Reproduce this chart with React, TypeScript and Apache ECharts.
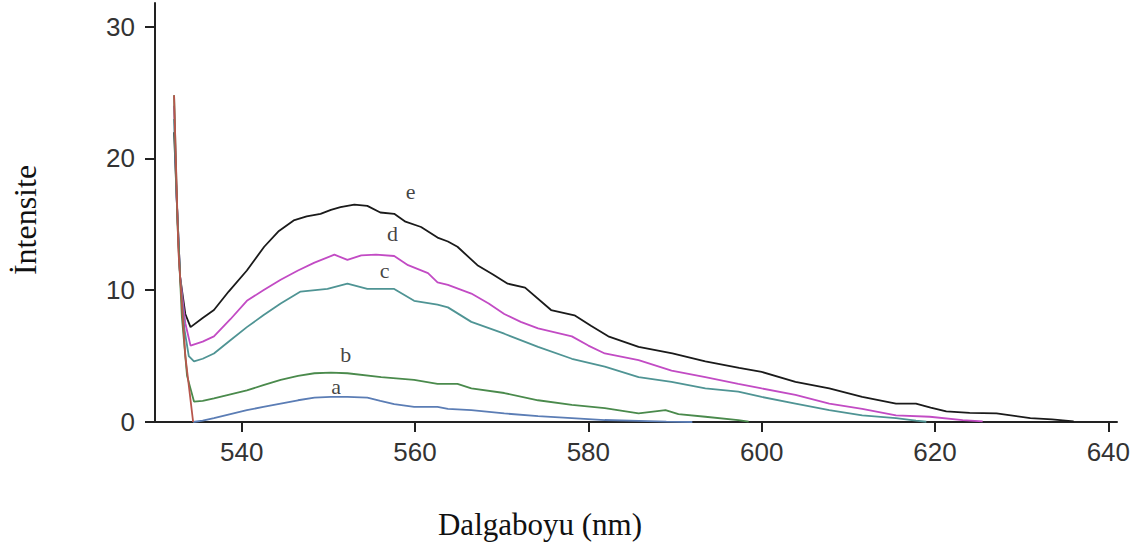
import React, { useEffect, useRef } from "react";
import * as echarts from "echarts";

const xTicks = [540, 560, 580, 600, 620, 640];
const yTicks = [0, 10, 20, 30];

const curveE: [number, number][] = [[532.2,22],[532.5,17],[532.9,11],[533.5,8.2],[534.1,7.2],[535.5,7.9],[536.8,8.5],[538.5,9.9],[540.6,11.5],[542.6,13.3],[544.3,14.5],[546.0,15.3],[547.5,15.6],[549.1,15.8],[550.3,16.1],[551.4,16.3],[553.0,16.5],[554.5,16.4],[556.0,15.9],[557.6,15.8],[558.9,15.2],[560.7,14.8],[562.6,14.0],[563.8,13.7],[564.9,13.3],[567.2,11.9],[569.0,11.2],[570.7,10.5],[572.7,10.2],[575.7,8.5],[578.4,8.1],[580.3,7.3],[582.3,6.5],[585.8,5.7],[589.7,5.2],[593.5,4.6],[597.4,4.1],[600.0,3.8],[603.9,3.05],[607.8,2.55],[611.6,1.9],[615.5,1.4],[617.8,1.4],[619.5,1.1],[621.3,0.8],[624,0.7],[627.1,0.65],[631.0,0.3],[633.5,0.2],[636.0,0.05]];
const curveD: [number, number][] = [[532.2,24],[532.5,17],[532.9,11],[533.5,7.5],[534.1,5.8],[535.5,6.1],[536.8,6.5],[538.7,7.8],[540.6,9.2],[542.5,10.0],[544.5,10.8],[546.5,11.5],[548.4,12.1],[550.7,12.7],[552.2,12.3],[553.8,12.65],[555.5,12.7],[557.6,12.6],[559.2,11.9],[561.5,11.3],[562.6,10.6],[563.8,10.4],[566.5,9.75],[568.5,9.0],[570.3,8.2],[572.2,7.6],[574.2,7.1],[578.1,6.5],[580,5.8],[581.9,5.2],[585.8,4.7],[589.6,3.9],[593.5,3.4],[597.3,2.9],[600.0,2.55],[603.9,2.05],[607.8,1.4],[611.6,1.0],[615.5,0.5],[619.4,0.4],[623.2,0.15],[625.5,0.05]];
const curveC: [number, number][] = [[532.2,23],[532.5,17],[532.9,11],[533.4,7],[533.9,5.0],[534.5,4.6],[535.5,4.8],[536.8,5.2],[538.7,6.2],[540.6,7.2],[542.5,8.1],[544.5,9.0],[546.8,9.9],[549.9,10.1],[552.2,10.5],[554.5,10.1],[557.6,10.1],[559.9,9.2],[562.6,8.9],[563.8,8.7],[566.5,7.6],[570.3,6.7],[574.2,5.7],[578.1,4.8],[581.9,4.2],[585.8,3.4],[589.6,3.05],[593.5,2.55],[597.3,2.3],[600,1.9],[603.9,1.4],[607.8,0.9],[611.6,0.5],[615.5,0.3],[617.8,0.1],[619,0.02]];
const curveB: [number, number][] = [[532.2,24.8],[532.6,15],[533.1,8],[533.7,3.5],[534.5,1.55],[535.5,1.6],[536.8,1.8],[538.7,2.1],[540.6,2.4],[542.5,2.8],[544.5,3.2],[546.5,3.5],[548.4,3.7],[550.3,3.75],[552.2,3.7],[556.1,3.4],[559.9,3.2],[562.6,2.9],[564.9,2.9],[566.5,2.55],[570.3,2.2],[574.2,1.65],[578.1,1.3],[581.9,1.05],[585.8,0.65],[588.9,0.9],[590.4,0.6],[593.5,0.4],[597.3,0.15],[598.5,0.02]];
const curveA: [number, number][] = [[534.4,0],[535.5,0.1],[536.8,0.3],[538.7,0.6],[540.6,0.9],[542.5,1.15],[544.5,1.4],[546.5,1.65],[548.4,1.85],[550.3,1.9],[552.2,1.9],[554.5,1.85],[556,1.6],[557.6,1.35],[559.9,1.15],[562.6,1.15],[563.8,1.0],[566.5,0.9],[570.3,0.65],[574.2,0.45],[578.1,0.3],[581.9,0.15],[585.8,0.08],[589,0.03],[592,0]];
const scatterDrop: [number, number][] = [[532.2,24.8],[532.7,13],[533.5,5],[534.4,0]];

const labelNames = ["a", "b", "c", "d", "e"];
const labelX = [550.9, 552.0, 556.5, 557.4, 559.5];
const labelY = [2.7, 5.1, 11.5, 14.3, 17.5];

export default function App() {
  const ref = useRef<HTMLDivElement>(null);
  useEffect(() => {
    if (!ref.current) return;
    const chart = echarts.init(ref.current, undefined, { renderer: "svg" });
    const line = (name: string, data: [number, number][], color: string, z = 2) => ({
      name,
      type: "line",
      data,
      showSymbol: false,
      symbol: "none",
      lineStyle: { color, width: 1.8 },
      z,
    });
    chart.setOption({
      animation: false,
      backgroundColor: "#fff",
      grid: { left: 155, right: 28, top: 3, bottom: 134 },
      xAxis: {
        type: "value",
        min: 530,
        max: 641,
        splitLine: { show: false },
        axisLine: { lineStyle: { color: "#222", width: 2 } },
        axisTick: { customValues: xTicks, length: 10, lineStyle: { color: "#222", width: 2 } },
        axisLabel: {
          customValues: xTicks,
          margin: 17,
          color: "#333",
          fontSize: 26,
          fontFamily: "Liberation Sans, Arial, sans-serif",
        },
      },
      yAxis: {
        type: "value",
        min: 0,
        max: 31.8,
        splitLine: { show: false },
        axisLine: { show: true, lineStyle: { color: "#222", width: 2 } },
        axisTick: { show: true, customValues: yTicks, length: 10, lineStyle: { color: "#222", width: 2 } },
        axisLabel: {
          customValues: yTicks,
          margin: 20,
          color: "#333",
          fontSize: 26,
          fontFamily: "Liberation Sans, Arial, sans-serif",
        },
      },
      graphic: [
        {
          type: "text",
          x: 540,
          y: 524,
          style: {
            text: "Dalgaboyu (nm)",
            fontFamily: "Liberation Serif, Times New Roman, serif",
            fontSize: 31,
            fill: "#111",
            textAlign: "center",
            textVerticalAlign: "middle",
          },
        },
        {
          type: "text",
          x: 25,
          y: 220,
          rotation: Math.PI / 2,
          style: {
            text: "İntensite",
            fontFamily: "Liberation Serif, Times New Roman, serif",
            fontSize: 32,
            fill: "#111",
            textAlign: "center",
            textVerticalAlign: "middle",
          },
        },
      ],
      series: [
        line("e", curveE, "#1a1a1a"),
        line("d", curveD, "#c24bc4"),
        line("c", curveC, "#4f9494"),
        line("b", curveB, "#4a8a4c"),
        line("a", curveA, "#5b7db5"),
        line("drop", scatterDrop, "#b8564c", 5),
        {
          type: "scatter",
          data: labelNames.map((n, i) => ({ name: n, value: [labelX[i], labelY[i]] })),
          symbolSize: 1,
          itemStyle: { color: "transparent" },
          label: {
            show: true,
            position: "inside",
            formatter: "{b}",
            color: "#111",
            fontSize: 22,
            fontFamily: "Liberation Serif, Times New Roman, serif",
          },
          z: 6,
        },
      ],
    });
    return () => chart.dispose();
  }, []);
  return (
    <div
      ref={ref}
      style={{ position: "fixed", left: 0, top: 0, width: 1145, height: 556 }}
    />
  );
}
